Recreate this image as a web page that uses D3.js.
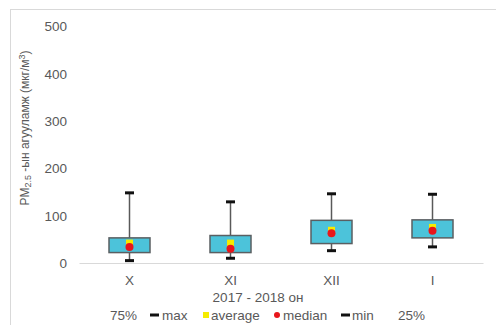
<!DOCTYPE html>
<html><head><meta charset="utf-8">
<script src="https://cdn.jsdelivr.net/npm/d3@7"></script>
<style>body{margin:0;background:#fff}svg{display:block}text{font-family:"Liberation Sans",Arial,sans-serif;fill:#595959}</style>
</head><body><svg id="c" width="496" height="325"></svg>
<script>
const categories = ["X","XI","XII","I"];
const maxVals = [148,129,146,145];
const q3Vals = [53,58,90,91];
const q1Vals = [22,22,41,53];
const minVals = [5,10,26,34];
const medianVals = [34,30,63,68];
const averageVals = [42,42,69,75];
const yTicks = [0,100,200,300,400,500];
const legendItems = ["75%","max","average","median","min","25%"];

const svg = d3.select("#c");
svg.append("rect").attr("x",10.5).attr("y",9.5).attr("width",500).attr("height",330)
  .attr("fill","none").attr("stroke","#d9d9d9");

const x = d3.scaleBand().domain(categories).range([79,483]);
const y = d3.scaleLinear().domain([0,500]).range([263,26]);

// y tick labels
const yAxis = d3.axisLeft(y).tickValues(yTicks).tickSize(0).tickPadding(0);
const ga = svg.append("g").attr("transform","translate(67,0)").call(yAxis);
ga.select(".domain").remove();
ga.selectAll("text").style("font-size","13.5px").attr("fill","#595959").attr("dy","0.35em");

// x axis
const xAxis = d3.axisBottom(x).tickSize(0).tickPadding(0);
const gx = svg.append("g").attr("transform",`translate(0,${y(0)})`).call(xAxis);
gx.select(".domain").attr("stroke","#d9d9d9").attr("stroke-width",1.2);
gx.selectAll("text").style("font-size","13.5px").attr("fill","#595959").attr("y",17).attr("dy","0.35em");

const data = categories.map((c,i)=>({c,max:maxVals[i],q3:q3Vals[i],q1:q1Vals[i],min:minVals[i],med:medianVals[i],avg:averageVals[i]}));
const bw = 41, cw = 9;
const g = svg.append("g");
data.forEach(d=>{
  const cx = x(d.c)+x.bandwidth()/2;
  g.append("line").attr("x1",cx).attr("x2",cx).attr("y1",y(d.min)).attr("y2",y(d.max)).attr("stroke","#595959").attr("stroke-width",1.5);
  [d.max,d.min].forEach(v=>g.append("line").attr("x1",cx-cw/2).attr("x2",cx+cw/2).attr("y1",y(v)).attr("y2",y(v)).attr("stroke","#111").attr("stroke-width",3));
  g.append("rect").attr("x",cx-bw/2).attr("width",bw).attr("y",y(d.q3)).attr("height",y(d.q1)-y(d.q3))
    .attr("fill","#4cc3da").attr("stroke","#5a5f62").attr("stroke-width",1.5);
  g.append("rect").attr("x",cx-3.5).attr("y",y(d.avg)-3.5).attr("width",7).attr("height",7).attr("fill","#f5ec00");
  g.append("circle").attr("cx",cx).attr("cy",y(d.med)).attr("r",4).attr("fill","#e8161b");
});

// axis titles
const yt = svg.append("text").attr("transform","translate(28.5,128) rotate(-90)").attr("text-anchor","middle").style("font-size","12px");
yt.append("tspan").text("PM");
yt.append("tspan").text("2.5").style("font-size","9px").attr("baseline-shift","-25%");
yt.append("tspan").text(" -ын агууламж (мкг/м");
yt.append("tspan").text("3").style("font-size","9px").attr("baseline-shift","40%");
yt.append("tspan").text(")");

svg.append("text").attr("x",258).attr("y",297).attr("dy","0.35em").attr("text-anchor","middle").style("font-size","13.5px").text("2017 - 2018 он");

// legend
const lg = svg.append("g");
const lx = [110,162,211,283,352,398];
legendItems.forEach((t,i)=>{
  lg.append("text").attr("x",lx[i]).attr("y",315).attr("dy","0.35em").style("font-size","13.5px").text(t);
});
lg.append("line").attr("x1",150).attr("x2",159).attr("y1",315).attr("y2",315).attr("stroke","#111").attr("stroke-width",3);
lg.append("rect").attr("x",203).attr("y",312).attr("width",6).attr("height",6).attr("fill","#f5ec00");
lg.append("circle").attr("cx",277).attr("cy",315).attr("r",3).attr("fill","#e8161b");
lg.append("line").attr("x1",341).attr("x2",350).attr("y1",315).attr("y2",315).attr("stroke","#111").attr("stroke-width",3);
</script></body></html>
